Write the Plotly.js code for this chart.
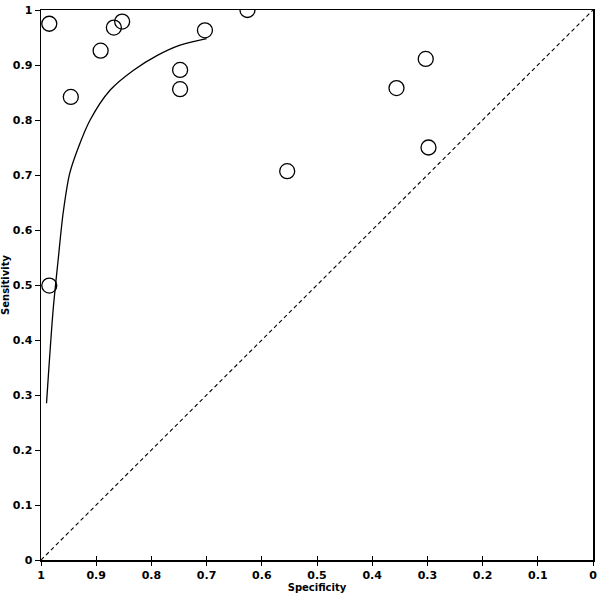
<!DOCTYPE html>
<html><head><meta charset="utf-8">
<script src="https://cdn.plot.ly/plotly-3.0.1.min.js"></script>
<style>html,body{margin:0;padding:0;background:#fff}#chart{width:600px;height:597px}</style>
</head><body><div id="chart"></div>
<script>
// Study estimates (specificity, sensitivity)
const studySpecificity = [0.985, 0.946, 0.892, 0.868, 0.853, 0.748, 0.748, 0.703, 0.626, 0.554, 0.985, 0.303, 0.356, 0.298];
const studySensitivity = [0.975, 0.842, 0.926, 0.968, 0.979, 0.891, 0.856, 0.963, 1.000, 0.707, 0.499, 0.911, 0.858, 0.750];

// Summary ROC curve
const srocSpecificity = [0.990, 0.978, 0.969, 0.960, 0.948, 0.932, 0.911, 0.875, 0.833, 0.790, 0.748, 0.700];
const srocSensitivity = [0.285, 0.455, 0.545, 0.630, 0.703, 0.751, 0.800, 0.854, 0.890, 0.917, 0.936, 0.948];

// Chance line
const refSpecificity = [1, 0];
const refSensitivity = [0, 1];

const tickValues = [0, 0.1, 0.2, 0.3, 0.4, 0.5, 0.6, 0.7, 0.8, 0.9, 1];
const tickLabels = ['0', '0.1', '0.2', '0.3', '0.4', '0.5', '0.6', '0.7', '0.8', '0.9', '1'];
const boldTickLabels = tickLabels.map(t => '<b>' + t + '</b>');

const tickFont = {family: 'DejaVu Sans', size: 11, color: '#000', weight: 'bold'};
const titleFont = {family: 'DejaVu Sans', size: 10, color: '#000', weight: 'bold'};

const traces = [
  {x: refSpecificity, y: refSensitivity, type: 'scatter', mode: 'lines',
   line: {color: '#000', width: 1.1, dash: '4px,3px'}, hoverinfo: 'skip'},
  {x: srocSpecificity, y: srocSensitivity, type: 'scatter', mode: 'lines',
   line: {color: '#000', width: 1.3, shape: 'spline', smoothing: 0.8}},
  {x: studySpecificity, y: studySensitivity, type: 'scatter', mode: 'markers',
   marker: {symbol: 'circle-open', size: 15, color: '#000', line: {color: '#000', width: 1.3}}},
  {x: [], y: [], xaxis: 'x2', type: 'scatter', mode: 'markers'}
];

const layout = {
  width: 600, height: 597,
  margin: {l: 41, r: 7, t: 10, b: 37},
  paper_bgcolor: '#fff', plot_bgcolor: '#fff',
  showlegend: false,
  xaxis: {
    range: [1, 0], showgrid: false, zeroline: false,
    showline: true, mirror: true, linecolor: '#000', linewidth: 1.5,
    ticks: 'outside', ticklen: 4, tickwidth: 1, tickcolor: '#000',
    tickvals: tickValues, ticktext: boldTickLabels, tickfont: tickFont,
    title: {text: '<b>Specificity</b>', font: titleFont, standoff: 2}
  },
  xaxis2: {
    range: [1, 0], overlaying: 'x', anchor: 'y', side: 'bottom',
    showgrid: false, zeroline: false, showline: false,
    ticks: 'inside', ticklen: 4, tickwidth: 1, tickcolor: '#000',
    tickvals: tickValues, showticklabels: false
  },
  yaxis: {
    range: [0, 1], showgrid: false, zeroline: false,
    showline: true, mirror: true, linecolor: '#000', linewidth: 1.5,
    ticks: 'outside', ticklen: 5, tickwidth: 1, tickcolor: '#000',
    tickvals: tickValues, ticktext: boldTickLabels, tickfont: tickFont,
    title: {text: '<b>Sensitivity</b>', font: titleFont, standoff: 2}
  }
};

Plotly.newPlot('chart', traces, layout, {displayModeBar: false, staticPlot: true});
</script>
</body></html>
